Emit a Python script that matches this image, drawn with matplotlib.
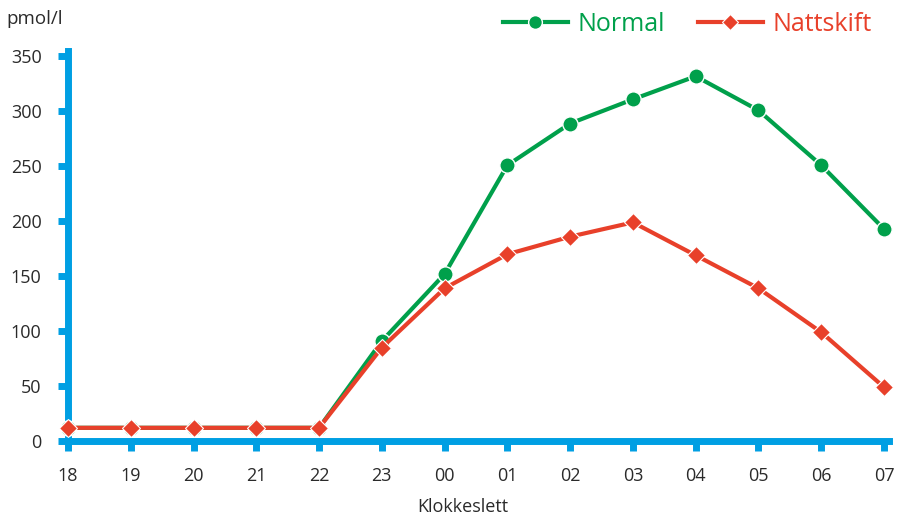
import matplotlib
matplotlib.use("Agg")
import matplotlib.pyplot as plt

hours = ["18", "19", "20", "21", "22", "23", "00", "01", "02", "03", "04", "05", "06", "07"]
normal = [12, 12, 12, 12, 12, 91, 152, 251, 289, 311, 332, 301, 251, 193]
nattskift = [12, 12, 12, 12, 12, 85, 139, 170, 186, 199, 169, 139, 99, 49]
yticks = [0, 50, 100, 150, 200, 250, 300, 350]

plt.rcParams['font.family'] = ['Open Sans', 'DejaVu Sans']
BLUE = "#009fe3"
GREEN = "#00a04b"
RED = "#e8402a"
TXT = "#2a2a2a"

fig = plt.figure(figsize=(9.01, 5.18), dpi=100)
ax = fig.add_axes([68/901, 1-441/518, 821/901, 390/518])
x = list(range(len(hours)))
ax.plot(x, normal, color=GREEN, lw=3, marker='o', ms=11, mec='white', mew=1,
        label="Normal", clip_on=False, zorder=3)
ax.plot(x, nattskift, color=RED, lw=3, marker='D', ms=9, mec='white', mew=0.8,
        label="Nattskift", clip_on=False, zorder=4)

ax.set_xlim(0, 13.08)
ax.set_ylim(0, 355)
ax.set_xticks(x)
ax.set_xticklabels(hours)
ax.set_yticks(yticks)
for s in ['top', 'right']:
    ax.spines[s].set_visible(False)
for s in ['left', 'bottom']:
    ax.spines[s].set_color(BLUE)
    ax.spines[s].set_linewidth(5)
    ax.spines[s].set_zorder(2)
ax.tick_params(axis='both', colors=BLUE, width=5, length=7, labelsize=13,
               labelcolor=TXT)
ax.tick_params(axis='x', pad=12)
ax.tick_params(axis='y', pad=12)
ax.set_xlabel("Klokkeslett", fontsize=13, color=TXT)
ax.xaxis.set_label_coords((463-68)/821, -0.145)
fig.text(6/901, 1-19/518, "pmol/l", fontsize=13.5, color=TXT, va='center', ha='left')

leg = fig.legend(loc='upper right', bbox_to_anchor=(0.993, 1.02), ncol=2, frameon=False,
                 fontsize=18, handlelength=2.6, columnspacing=1.3, handletextpad=0.4,
                 markerscale=0.9)
for t, c in zip(leg.get_texts(), [GREEN, RED]):
    t.set_color(c)

fig.savefig("out.png", dpi=100)
